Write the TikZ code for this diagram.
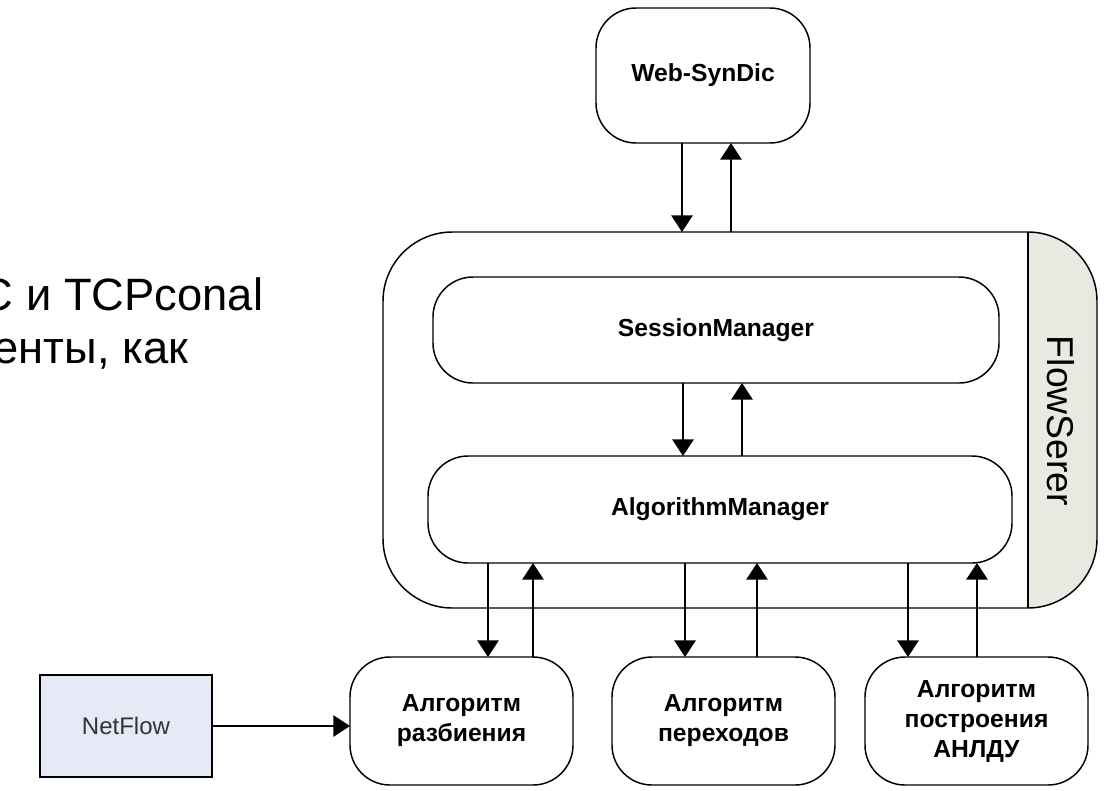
\documentclass[tikz,border=0pt]{standalone}
\usepackage{fontspec}
\setmainfont{Liberation Sans}
\usetikzlibrary{arrows.meta}
\definecolor{netfill}{RGB}{230,234,246}
\definecolor{stripfill}{RGB}{232,232,224}
\tikzset{
  box/.style={draw, line width=1.1pt, outer sep=0pt, rounded corners=30pt, align=center,
    font=\fontsize{18.5}{22.5}\selectfont\bfseries},
  link/.style={line width=1.5pt, -{Triangle[length=12.5pt,width=16pt]}},
}
\begin{document}
\begin{tikzpicture}[x=0.75pt,y=-0.75pt]
\useasboundingbox (0,0) rectangle (1107,790);
\node[anchor=base east, font=\fontsize{34}{40}\selectfont] (textA) at (268,310) {C и TCPconal};
\node[anchor=base east, font=\fontsize{34}{40}\selectfont] (textB) at (193,363) {енты, как};
\node[box, minimum width=160.5pt, minimum height=101.25pt] (web) at (703,75.5) {Web-SynDic};
% FlowSerer
\begin{scope}
\clip (1028,232) rectangle (1100,608);
\shade[left color=white, right color=stripfill, rounded corners=52pt] (383,232) rectangle (1097,608);
\end{scope}
\node[draw, line width=1.1pt, outer sep=0pt, rounded corners=52pt, minimum width=535.5pt, minimum height=282pt] (flow) at (740,420) {};
\draw[line width=1.1pt] (flow.north -| 1028,0) -- (flow.south -| 1028,0);
\node[rotate=-90, font=\fontsize{28}{30}\selectfont] (flowname) at (1061,421) {FlowSerer};
\node[box, minimum width=424.5pt, minimum height=79.5pt] (sess) at (716,330) {SessionManager};
\node[box, minimum width=438pt, minimum height=80.25pt] (algo) at (720,509.5) {AlgorithmManager};
% algorithms
\node[box, minimum width=167.25pt, minimum height=96pt] (alga) at (461.5,721) {Алгоритм\\разбиения};
\node[box, minimum width=167.25pt, minimum height=96pt] (algb) at (723.5,721) {Алгоритм\\переходов};
\node[box, minimum width=167.25pt, minimum height=96pt] (algc) at (976.5,721) {Алгоритм\\построения\\АНЛДУ};
\node[draw, line width=1.1pt, outer sep=0pt, fill=netfill, minimum width=129pt, minimum height=76.5pt,
  text=black!80, font=\fontsize{18}{23}\selectfont] (netflow) at (126,726) {NetFlow};
\draw[link] (web.south -| 682,0) -- (flow.north -| 682,0);
\draw[link] (flow.north -| 731,0) -- (web.south -| 731,0);
\draw[link] (sess.south -| 683,0) -- (algo.north -| 683,0);
\draw[link] (algo.north -| 742,0) -- (sess.south -| 742,0);
\draw[link] (algo.south -| 488,0) -- (alga.north -| 488,0);
\draw[link] (alga.north -| 533,0) -- (algo.south -| 533,0);
\draw[link] (algo.south -| 685,0) -- (algb.north -| 685,0);
\draw[link] (algb.north -| 757,0) -- (algo.south -| 757,0);
\draw[link] (algo.south -| 908,0) -- (algc.north -| 908,0);
\draw[link] (algc.north -| 977,0) -- (algo.south -| 977,0);
\draw[link] (netflow.east) -- (netflow.east -| alga.west);
\end{tikzpicture}
\end{document}
